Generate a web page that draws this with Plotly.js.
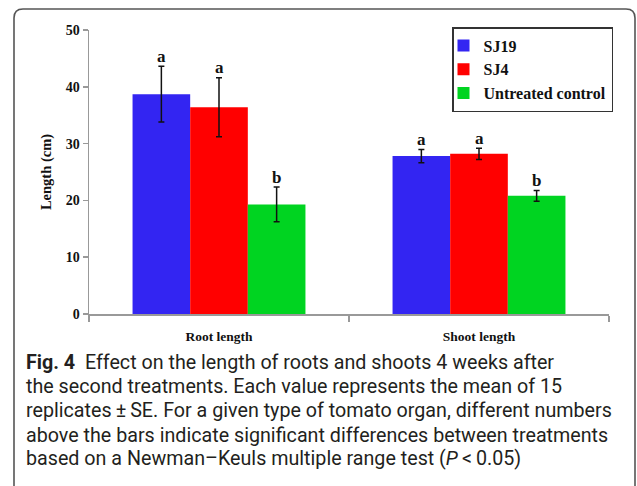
<!DOCTYPE html>
<html>
<head>
<meta charset="utf-8">
<script src="https://cdn.plot.ly/plotly-3.0.1.min.js"></script>
<style>html,body{margin:0;padding:0;background:#fff;}#chart{width:637px;height:486px;}</style>
</head>
<body>
<div id="chart"></div>
<script>
// ---- data ----
var categories = ["Root length", "Shoot length"];
var seriesNames = ["SJ19", "SJ4", "Untreated control"];
var sj19 = [38.7, 27.8];
var sj4 = [36.4, 28.2];
var control = [19.3, 20.8];
var sj19SE = [4.9, 1.15];
var sj4SE = [5.2, 1.0];
var controlSE = [3.05, 0.95];
var sj19Letters = ["a", "a"];
var sj4Letters = ["a", "a"];
var controlLetters = ["b", "b"];
var yTicks = [0, 10, 20, 30, 40, 50];
var captionLines = [
  "<b>Fig. 4</b>  Effect on the length of roots and shoots 4 weeks after",
  "the second treatments. Each value represents the mean of 15",
  "replicates\u2009\u00B1\u2009SE. For a given type of tomato organ, different numbers",
  "above the bars indicate significant differences between treatments",
  "based on a Newman\u2013Keuls multiple range test (<i>P</i>\u2009<\u20090.05)"
];

var colors = ["#3325F2", "#FF0000", "#00D421"];
var values = [sj19, sj4, control];
var errors = [sj19SE, sj4SE, controlSE];
var letters = [sj19Letters, sj4Letters, controlLetters];

var serif = "Liberation Serif, Times New Roman, serif";

var traces = seriesNames.map(function (name, i) {
  return {
    type: "bar",
    name: name,
    x: categories,
    y: values[i],
    legendgroup: "g" + i,
    marker: {color: colors[i], line: {width: 0}},
    error_y: {type: "data", array: errors[i], visible: true, color: "#111", thickness: 1.5, width: 3}
  };
});

// plot geometry helpers (pixel -> paper)
var L = 89, R = 28, T = 30, B = 172, W = 637, H = 486;
var pw = W - L - R, ph = H - T - B;
function px(x) { return (x - L) / pw; }
function py(y) { return (H - B - y) / ph; }

var annotations = [];
var barW = pw / categories.length * (1 - 0.335) / seriesNames.length;
seriesNames.forEach(function (name, i) {
  categories.forEach(function (c, j) {
    annotations.push({
      xref: "x", yref: "y", x: c, y: values[i][j] + errors[i][j],
      xshift: (i - 1) * barW, yshift: -1.5,
      text: "<b>" + letters[i][j] + "</b>", showarrow: false,
      yanchor: "bottom", xanchor: "center",
      font: {family: serif, size: 17, color: "#111"}
    });
  });
});

var capY = [362, 386, 410, 435, 459];
captionLines.forEach(function (t, k) {
  annotations.push({
    xref: "paper", yref: "paper", x: px(24), y: py(capY[k]),
    xanchor: "left", yanchor: "middle", showarrow: false, align: "left",
    text: t, font: {family: "Roboto, sans-serif", size: 19.7, color: "#231f20"}
  });
});

var x0 = px(14), x1 = px(635), yt = py(9), yb = py(520);
var rx = 9 / pw, ry = 9 / ph;
var borderPath = "M" + x0 + "," + yb + " L" + x0 + "," + (yt - ry) +
  " Q" + x0 + "," + yt + " " + (x0 + rx) + "," + yt +
  " L" + (x1 - rx) + "," + yt +
  " Q" + x1 + "," + yt + " " + x1 + "," + (yt - ry) +
  " L" + x1 + "," + yb;

var layout = {
  width: W, height: H,
  margin: {l: L, r: R, t: T, b: B, pad: 0},
  paper_bgcolor: "#fff", plot_bgcolor: "#fff",
  barmode: "group", bargap: 0.335, bargroupgap: 0,
  showlegend: true,
  legend: {
    x: px(452), y: py(27), xanchor: "left", yanchor: "top",
    bordercolor: "#333", borderwidth: 1.5, bgcolor: "#fff",
    font: {family: serif, size: 16, color: "#111", weight: "bold"},
    tracegroupgap: 2, traceorder: "normal", indentation: -10
  },
  xaxis: {
    type: "category", tickson: "boundaries", ticks: "outside", ticklen: 6,
    tickcolor: "#999", tickwidth: 1.5, showline: true, linecolor: "#999", linewidth: 1.5,
    showgrid: false, zeroline: false, fixedrange: true, ticklabelstandoff: 9,
    tickfont: {family: serif, size: 13.5, color: "#111", weight: "bold"}
  },
  yaxis: {
    range: [0, 50], tickvals: yTicks, ticks: "outside", ticklen: 5,
    tickcolor: "#999", tickwidth: 1.5, showline: true, linecolor: "#999", linewidth: 1.5,
    showgrid: false, zeroline: false, fixedrange: true, automargin: false,
    tickfont: {family: serif, size: 14, color: "#111", weight: "bold"},
    title: {text: "Length (cm)", standoff: 10, font: {family: serif, size: 14.5, color: "#111", weight: "bold"}}
  },
  annotations: annotations,
  shapes: [{type: "path", xref: "paper", yref: "paper", path: borderPath, line: {color: "#555", width: 1.6}, layer: "above"}]
};

Plotly.newPlot("chart", traces, layout, {displayModeBar: false, staticPlot: true});
</script>
</body>
</html>
